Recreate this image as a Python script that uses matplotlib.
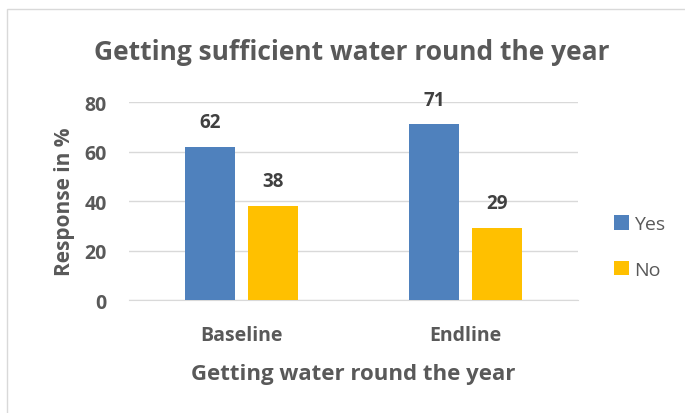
import matplotlib

matplotlib.use("Agg")
import matplotlib.pyplot as plt
from matplotlib.patches import Rectangle

# survey responses (%)
categories = ["Baseline", "Endline"]
yes_values = [62, 71]
no_values = [38, 29]
series_names = ["Yes", "No"]

BLUE = "#4F81BD"
GOLD = "#FFC000"
TEXT = "#595959"
LABEL = "#404040"
GRID = "#D9D9D9"

plt.rcParams["font.family"] = ["Open Sans", "DejaVu Sans"]

fig = plt.figure(figsize=(6.85, 4.14), dpi=100)
ax = fig.add_axes([0.1883, 0.2729, 0.6555, 0.4783])

# light chart-area frame
fig.patches.append(
    Rectangle((7 / 685, -0.1), 1.1, 1 - 10 / 414 + 0.1, transform=fig.transFigure,
              fill=False, edgecolor=GRID, linewidth=1.0)
)

x = range(len(categories))
width = 0.223
offset = 0.1406
bars_yes = ax.bar([i - offset for i in x], yes_values, width, color=BLUE, label=series_names[0], zorder=3)
bars_no = ax.bar([i + offset for i in x], no_values, width, color=GOLD, label=series_names[1], zorder=3)

for bars in (bars_yes, bars_no):
    for b in bars:
        h = b.get_height()
        ax.text(b.get_x() + b.get_width() / 2, h + 10, f"{h:.0f}", ha="center", va="center",
                fontsize=13.5, fontweight="bold", color=LABEL)

ax.set_xlim(-0.5, 1.5)
ax.set_ylim(0, 80)
ax.set_yticks([0, 20, 40, 60, 80])
ax.set_xticks(list(x))
ax.set_xticklabels(categories)
ax.grid(axis="y", color=GRID, linewidth=1.0, zorder=0)
for s in ("top", "right", "left"):
    ax.spines[s].set_visible(False)
ax.spines["bottom"].set_color(GRID)
ax.tick_params(length=0, labelsize=14, labelcolor=TEXT)
for lbl in ax.get_xticklabels() + ax.get_yticklabels():
    lbl.set_fontweight("bold")
ax.tick_params(axis="y", pad=16)
ax.tick_params(axis="x", pad=18)

ax.set_ylabel("Response in %", fontsize=15, fontweight="bold", color=TEXT, labelpad=7)
ax.set_xlabel("Getting water round the year", fontsize=16, fontweight="bold", color=TEXT, labelpad=13)

fig.text(352 / 685, 1 - 52 / 414, "Getting sufficient water round the year", ha="center", va="center",
         fontsize=19, fontweight="bold", color=TEXT)

leg = fig.legend(handles=[bars_yes, bars_no], labels=series_names, loc="center left",
                 bbox_to_anchor=(614 / 685, 1 - 248 / 414), frameon=False, fontsize=14,
                 handlelength=0.75, handleheight=0.75, handletextpad=0.3, labelspacing=1.4,
                 borderpad=0, borderaxespad=0)
for t in leg.get_texts():
    t.set_color(TEXT)

fig.savefig("out.png", dpi=100)
